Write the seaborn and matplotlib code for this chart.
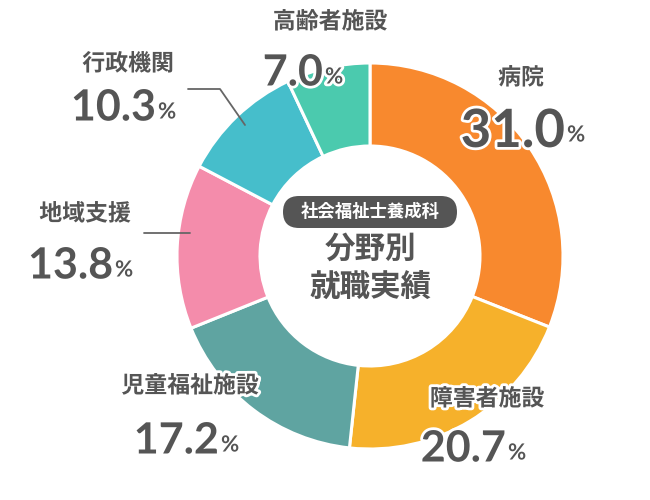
import matplotlib
matplotlib.use("Agg")
import matplotlib.pyplot as plt
import matplotlib.patheffects as pe
from matplotlib.patches import FancyBboxPatch
import seaborn as sns

# Datos del gráfico
categorias = ["病院", "障害者施設", "児童福祉施設", "地域支援", "行政機関", "高齢者施設"]
porcentajes = [31.0, 20.7, 17.2, 13.8, 10.3, 7.0]
colores = ["#F8892E", "#F6B12B", "#5FA4A1", "#F48CAB", "#46BECB", "#4BCAAE"]
titulo_caja = "社会福祉士養成科"
titulo_centro = ["分野別", "就職実績"]

sns.set_style("white")
plt.rcParams["font.family"] = ["Noto Sans CJK JP", "DejaVu Sans"]

GRIS = "#555555"
H = 500  # alto en píxeles, para pasar de coordenadas de imagen a datos
NUM_FONT = ["Lato", "DejaVu Sans"]


def y(v):
    return H - v


fig = plt.figure(figsize=(6.5, 5), dpi=100)
ax = fig.add_axes([0, 0, 1, 1])
ax.set_xlim(0, 650)
ax.set_ylim(0, H)
ax.set_aspect("equal")
ax.axis("off")

# Donut
ax.pie(porcentajes, colors=colores, startangle=90, counterclock=False,
       center=(370, y(256)), radius=193,
       wedgeprops=dict(width=83, edgecolor="white", linewidth=2.2))
ax.set_xlim(0, 650)
ax.set_ylim(0, H)

# Etiquetas: (centro del nombre, fin del número, y del número, tamaño del número)
pos_etiquetas = [
    ((521, 78), 565, 127, 38),
    ((487, 399), 506, 445, 31),
    ((190, 386), 219, 437, 31),
    ((85, 214), 113, 262, 31),
    ((128, 64), 156, 104, 31),
    ((330, 22), 323, 69, 31),
]
borde = [pe.withStroke(linewidth=4, foreground="white")]

for nombre, valor, (pos_nombre, x_num, y_num, tam) in zip(categorias, porcentajes, pos_etiquetas):
    ax.text(pos_nombre[0], y(pos_nombre[1]), nombre, ha="center", va="center",
            fontsize=16.5, fontweight="bold", color=GRIS, path_effects=borde)
    ax.text(x_num, y(y_num), f"{valor:.1f}", ha="right", va="center_baseline",
            fontsize=tam, fontweight="bold", color=GRIS, path_effects=borde,
            family=NUM_FONT)
    ax.text(x_num + 2, y(y_num + 6), "%", ha="left", va="center_baseline",
            fontsize=16, fontweight="bold", color=GRIS, path_effects=borde,
            family=NUM_FONT)

# Líneas guía
ax.plot([188, 220, 245], [y(89), y(89), y(125)], color="#666666", lw=1.3)
ax.plot([144, 190], [y(233), y(233)], color="#666666", lw=1.3)

# Texto central
caja = FancyBboxPatch((283, y(228)), 174, 32, boxstyle="round,pad=0,rounding_size=16",
                      facecolor=GRIS, edgecolor="none")
ax.add_patch(caja)
ax.text(370, y(212), titulo_caja, ha="center", va="center", fontsize=12.5,
        fontweight="bold", color="white")
ax.text(370, y(249), titulo_centro[0], ha="center", va="center", fontsize=22,
        fontweight="bold", color=GRIS)
ax.text(370, y(288), titulo_centro[1], ha="center", va="center", fontsize=22,
        fontweight="bold", color=GRIS)

fig.savefig("out.png", dpi=100, facecolor="white")
